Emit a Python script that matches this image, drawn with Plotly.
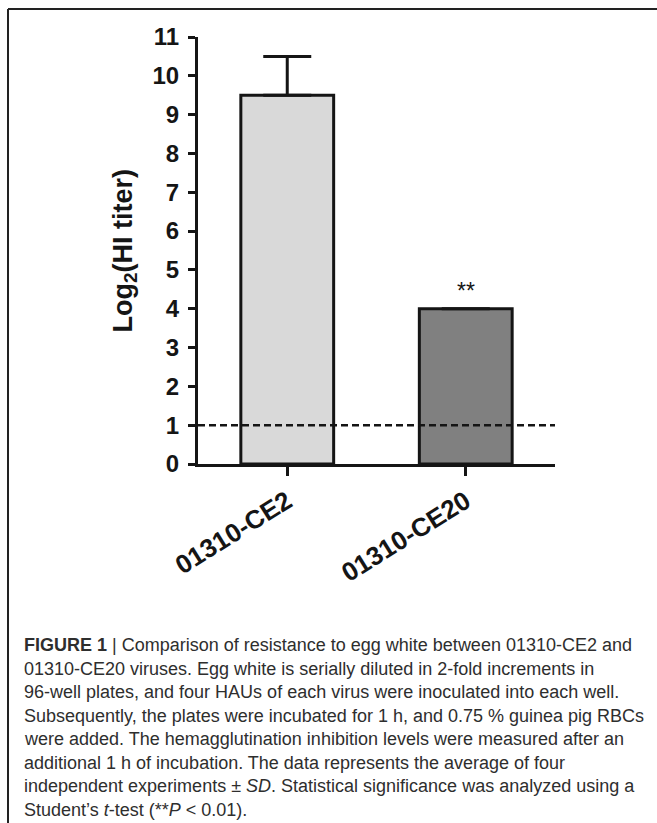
import plotly.graph_objects as go

# ---- data ----
categories = ["01310-CE2", "01310-CE20"]
means = [9.5, 4.0]
sd_upper = [1.0, 0.0]
sd_lower = [0.0, 0.0]
bar_fills = ["#d9d9d9", "#808080"]
y_tick_values = list(range(0, 12))
detection_limit = 1
significance_label = "**"
y_title = "<b>Log<sub>2</sub>(HI titer)</b>"
caption_lines = [
    "<b>FIGURE 1</b> | Comparison of resistance to egg white between 01310-CE2 and",
    "01310-CE20 viruses. Egg white is serially diluted in 2-fold increments in",
    "96-well plates, and four HAUs of each virus were inoculated into each well.",
    "Subsequently, the plates were incubated for 1 h, and 0.75 % guinea pig RBCs",
    "were added. The hemagglutination inhibition levels were measured after an",
    "additional 1 h of incubation. The data represents the average of four",
    "independent experiments \u00b1 <i>SD</i>. Statistical significance was analyzed using a",
    "Student\u2019s <i>t</i>-test (**<i>P</i> &lt; 0.01).",
]

# ---- layout geometry (pixels) ----
W, H = 657, 823
L, R, T, B = 198, 102, 37, 359
PW, PH = W - L - R, H - T - B

def px_x(p):
    return (p - L) / PW

def px_y(p):
    return (H - B - p) / PH

INK = "#151515"

fig = go.Figure()
fig.add_trace(go.Bar(
    x=categories, y=means, width=0.52,
    marker=dict(color=bar_fills, line=dict(color=INK, width=3)),
    error_y=dict(type="data", symmetric=False, array=sd_upper, arrayminus=sd_lower,
                 color=INK, thickness=3, width=24),
    showlegend=False,
))

fig.add_shape(type="line", xref="paper", yref="y", x0=0, x1=1,
              y0=detection_limit, y1=detection_limit,
              line=dict(color=INK, width=2.5, dash="7px,4px"), layer="above")

annotations = [
    dict(x=categories[1], y=means[1] + sd_upper[1] + 0.45, xref="x", yref="y",
         text=significance_label, showarrow=False,
         font=dict(family="Liberation Sans, Arial", size=23, color=INK)),
    dict(x=px_x(124), y=0.5, xref="paper", yref="paper", text=y_title,
         textangle=-90, showarrow=False, xanchor="center", yanchor="middle",
         font=dict(family="Liberation Sans, Arial", size=27, color=INK)),
]
first_line, spacing = 645, 23.5
for i, line in enumerate(caption_lines):
    annotations.append(dict(
        x=px_x(22), y=px_y(first_line + i * spacing), xref="paper", yref="paper",
        text=line, showarrow=False, xanchor="left", yanchor="middle", align="left",
        font=dict(family="Liberation Sans, Arial", size=18, color="#2e2e2e"),
    ))

# figure frame (top and left rule)
fig.add_shape(type="line", xref="paper", yref="paper",
              x0=px_x(8), x1=px_x(657), y0=px_y(9), y1=px_y(9),
              line=dict(color="#222", width=2))
fig.add_shape(type="line", xref="paper", yref="paper",
              x0=px_x(8), x1=px_x(8), y0=px_y(9), y1=px_y(823),
              line=dict(color="#222", width=2))

fig.update_layout(
    width=W, height=H,
    margin=dict(l=L, r=R, t=T, b=B, pad=0),
    paper_bgcolor="white", plot_bgcolor="white",
    annotations=annotations,
    xaxis=dict(type="category", range=[-0.5, 1.5], showline=True, linecolor=INK,
               linewidth=3, ticks="outside", ticklen=9, tickwidth=3, tickcolor=INK,
               tickangle=-32, showgrid=False, zeroline=False,
               tickfont=dict(family="Liberation Sans, Arial", size=26, color=INK,
                             weight="bold")),
    yaxis=dict(range=[0, 11], tickvals=y_tick_values, showline=True, linecolor=INK,
               linewidth=3, ticks="outside", ticklen=7, tickwidth=3, tickcolor=INK,
               showgrid=False, zeroline=False, ticklabelstandoff=4,
               tickfont=dict(family="Liberation Sans, Arial", size=24, color=INK,
                             weight="bold")),
)

fig.write_html("out.html")
